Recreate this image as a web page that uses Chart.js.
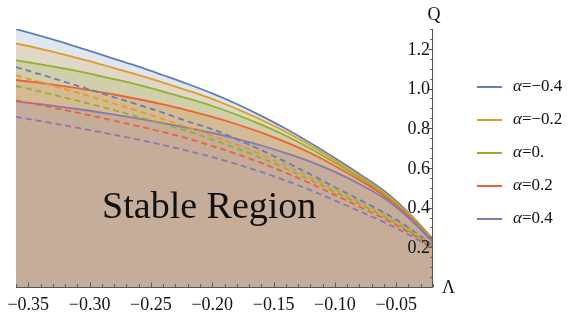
<!DOCTYPE html>
<html>
<head>
<meta charset="utf-8">
<script src="https://cdn.jsdelivr.net/npm/chart.js@4.4.0/dist/chart.umd.min.js"></script>
<style>
  body { margin: 0; background: #fff; }
  #box { width: 581px; height: 312px; position: relative; }
</style>
</head>
<body>
<div id="box"><canvas id="grafico"></canvas></div>
<script>
// ascisse comuni (Lambda)
var lambda = [-0.36, -0.34, -0.32, -0.30, -0.28, -0.26, -0.24, -0.22, -0.20,
              -0.18, -0.16, -0.14, -0.12, -0.10, -0.08, -0.06, -0.04, -0.02];

// curve piene (Q)
var pienaM04 = [1.300, 1.265, 1.229, 1.190, 1.150, 1.110, 1.067, 1.023, 0.976, 0.922, 0.862, 0.797, 0.726, 0.650, 0.570, 0.485, 0.375, 0.242];
var pienaM02 = [1.227, 1.200, 1.170, 1.138, 1.103, 1.068, 1.030, 0.990, 0.948, 0.897, 0.843, 0.782, 0.713, 0.638, 0.559, 0.476, 0.369, 0.238];
var piena00  = [1.142, 1.122, 1.100, 1.075, 1.047, 1.018, 0.985, 0.950, 0.912, 0.868, 0.818, 0.762, 0.698, 0.626, 0.550, 0.468, 0.363, 0.234];
var pienaP02 = [1.043, 1.028, 1.011, 0.992, 0.970, 0.946, 0.920, 0.890, 0.857, 0.820, 0.778, 0.730, 0.675, 0.610, 0.539, 0.459, 0.357, 0.230];
var pienaP04 = [0.935, 0.921, 0.905, 0.888, 0.869, 0.848, 0.826, 0.802, 0.776, 0.746, 0.713, 0.675, 0.632, 0.580, 0.519, 0.448, 0.349, 0.226];

// curve tratteggiate (Q)
var trattM04 = [1.108, 1.071, 1.033, 0.995, 0.956, 0.918, 0.878, 0.834, 0.795, 0.745, 0.690, 0.630, 0.568, 0.503, 0.440, 0.375, 0.300, 0.210];
var trattM02 = [1.066, 1.032, 0.997, 0.961, 0.924, 0.886, 0.846, 0.805, 0.762, 0.717, 0.667, 0.612, 0.553, 0.490, 0.428, 0.365, 0.292, 0.207];
var tratt00  = [1.013, 0.984, 0.954, 0.923, 0.891, 0.857, 0.822, 0.785, 0.742, 0.698, 0.650, 0.597, 0.540, 0.479, 0.418, 0.356, 0.285, 0.204];
var trattP02 = [0.940, 0.916, 0.891, 0.865, 0.838, 0.810, 0.780, 0.748, 0.710, 0.670, 0.625, 0.576, 0.522, 0.464, 0.405, 0.345, 0.277, 0.200];
var trattP04 = [0.857, 0.836, 0.814, 0.791, 0.767, 0.742, 0.715, 0.686, 0.655, 0.619, 0.580, 0.536, 0.488, 0.436, 0.382, 0.327, 0.265, 0.195];

var alfa = ["\u22120.4", "\u22120.2", "0.", "0.2", "0.4"];
var xTicks = [-0.35, -0.30, -0.25, -0.20, -0.15, -0.10, -0.05];
var yTicks = [0.2, 0.4, 0.6, 0.8, 1.0, 1.2];

var colori = ["#5E81B5", "#E19C24", "#8FB032", "#EB6235", "#8778B3"];
var riempi = ["rgba(94,129,181,0.2)", "rgba(225,156,36,0.2)", "rgba(143,176,50,0.2)",
              "rgba(235,98,53,0.2)", "rgba(135,120,179,0.2)"];

var piene = [pienaM04, pienaM02, piena00, pienaP02, pienaP04];
var tratteggiate = [trattM04, trattM02, tratt00, trattP02, trattP04];

function punti(ys) {
    var out = [];
    for (var i = 0; i < lambda.length; i++) {
        out.push({x: lambda[i], y: ys[i]});
    }
    return out;
}

function meno(v) { // segno meno tipografico
    return v.toFixed(2).replace("-", "\u2212");
}

// Chart.js disegna dall'ultimo dataset al primo: alpha=0.4 va sopra
var datasets = [];
for (var i = 4; i >= 0; i--) {
    datasets.push({
        label: "\u03b1=" + alfa[i] + " tratt",
        data: punti(tratteggiate[i]),
        borderColor: colori[i],
        borderWidth: 1.8,
        borderDash: [6, 4],
        fill: false,
        pointRadius: 0,
        cubicInterpolationMode: 'monotone'
    });
}
for (var i = 4; i >= 0; i--) {
    datasets.push({
        label: "\u03b1=" + alfa[i],
        data: punti(piene[i]),
        borderColor: colori[i],
        backgroundColor: riempi[i],
        borderWidth: 1.8,
        fill: 'origin',
        pointRadius: 0,
        cubicInterpolationMode: 'monotone'
    });
}

var SERIF = '"Liberation Serif", "DejaVu Serif", serif';

// tacche verso l'interno, assi, etichette e legenda
var extra = {
    id: 'extra',
    afterDraw: function(chart) {
        var ctx = chart.ctx;
        var xs = chart.scales.x, ys = chart.scales.y, a = chart.chartArea;
        ctx.save();
        ctx.strokeStyle = '#555';
        ctx.lineWidth = 1;
        ctx.beginPath();
        ctx.moveTo(a.left, a.bottom + 0.5);
        ctx.lineTo(a.right, a.bottom + 0.5);
        ctx.moveTo(a.right - 0.5, a.top);
        ctx.lineTo(a.right - 0.5, a.bottom);
        for (var k = -36; k <= -2; k++) {
            var px = Math.round(xs.getPixelForValue(k / 100)) + 0.5;
            var l = (k % 5 === 0) ? 4.5 : 2.7;
            ctx.moveTo(px, a.bottom);
            ctx.lineTo(px, a.bottom - l);
        }
        for (var k = 1; k <= 26; k++) {
            var py = Math.round(ys.getPixelForValue(k * 0.05)) + 0.5;
            var l = (k % 4 === 0) ? 4.5 : 2.7;
            ctx.moveTo(a.right, py);
            ctx.lineTo(a.right - l, py);
        }
        ctx.stroke();

        ctx.fillStyle = '#111';
        ctx.font = '18px ' + SERIF;

        // etichette asse Q, a sinistra dell'asse
        ctx.textAlign = 'right';
        ctx.textBaseline = 'middle';
        for (var i = 0; i < yTicks.length; i++) {
            ctx.fillText(yTicks[i].toFixed(1), a.right - 3, ys.getPixelForValue(yTicks[i]) + 1);
        }

        ctx.textBaseline = 'alphabetic';
        ctx.textAlign = 'center';
        ctx.fillText("Q", a.right + 1, 20);
        ctx.textAlign = 'left';
        ctx.fillText("\u039b", a.right + 9, a.bottom + 6);

        ctx.font = '38px ' + SERIF;
        ctx.textAlign = 'center';
        ctx.textBaseline = 'middle';
        ctx.fillText("Stable Region", xs.getPixelForValue(-0.2) - 3, ys.getPixelForValue(0.4));

        // legenda
        ctx.textAlign = 'left';
        ctx.textBaseline = 'middle';
        for (var i = 0; i < alfa.length; i++) {
            var y = 87 + i * 33;
            ctx.strokeStyle = colori[i];
            ctx.lineWidth = 2;
            ctx.beginPath();
            ctx.moveTo(477, y);
            ctx.lineTo(502, y);
            ctx.stroke();
            ctx.font = 'italic 17px ' + SERIF;
            ctx.fillText("\u03b1", 513, y);
            var w = ctx.measureText("\u03b1").width;
            ctx.font = '17px ' + SERIF;
            ctx.fillText("=" + alfa[i], 513 + w, y);
        }
        ctx.restore();
    }
};

var chart = new Chart(document.getElementById('grafico'), {
    type: 'line',
    data: { datasets: datasets },
    options: {
        responsive: true,
        maintainAspectRatio: false,
        animation: false,
        devicePixelRatio: 1,
        layout: { padding: { left: 15, right: 148, top: 29, bottom: 0 } },
        plugins: {
            legend: { display: false },
            tooltip: { enabled: false },
            filler: { drawTime: 'beforeDatasetsDraw' }
        },
        scales: {
            x: {
                type: 'linear',
                min: -0.36,
                max: -0.02,
                grid: { display: false, drawTicks: false },
                border: { display: false },
                afterFit: function(s) { s.height = 25; },
                afterBuildTicks: function(s) {
                    s.ticks = xTicks.map(function(v) { return {value: v}; });
                },
                ticks: {
                    padding: 7,
                    color: '#111',
                    font: { family: SERIF, size: 18 },
                    maxRotation: 0,
                    autoSkip: false,
                    callback: function(v) { return meno(v); }
                }
            },
            y: {
                position: 'right',
                min: 0,
                max: 1.3,
                grid: { display: false, drawTicks: false },
                border: { display: false },
                afterFit: function(s) { s.width = 0; },
                ticks: { display: false }
            }
        }
    },
    plugins: [extra]
});
</script>
</body>
</html>
